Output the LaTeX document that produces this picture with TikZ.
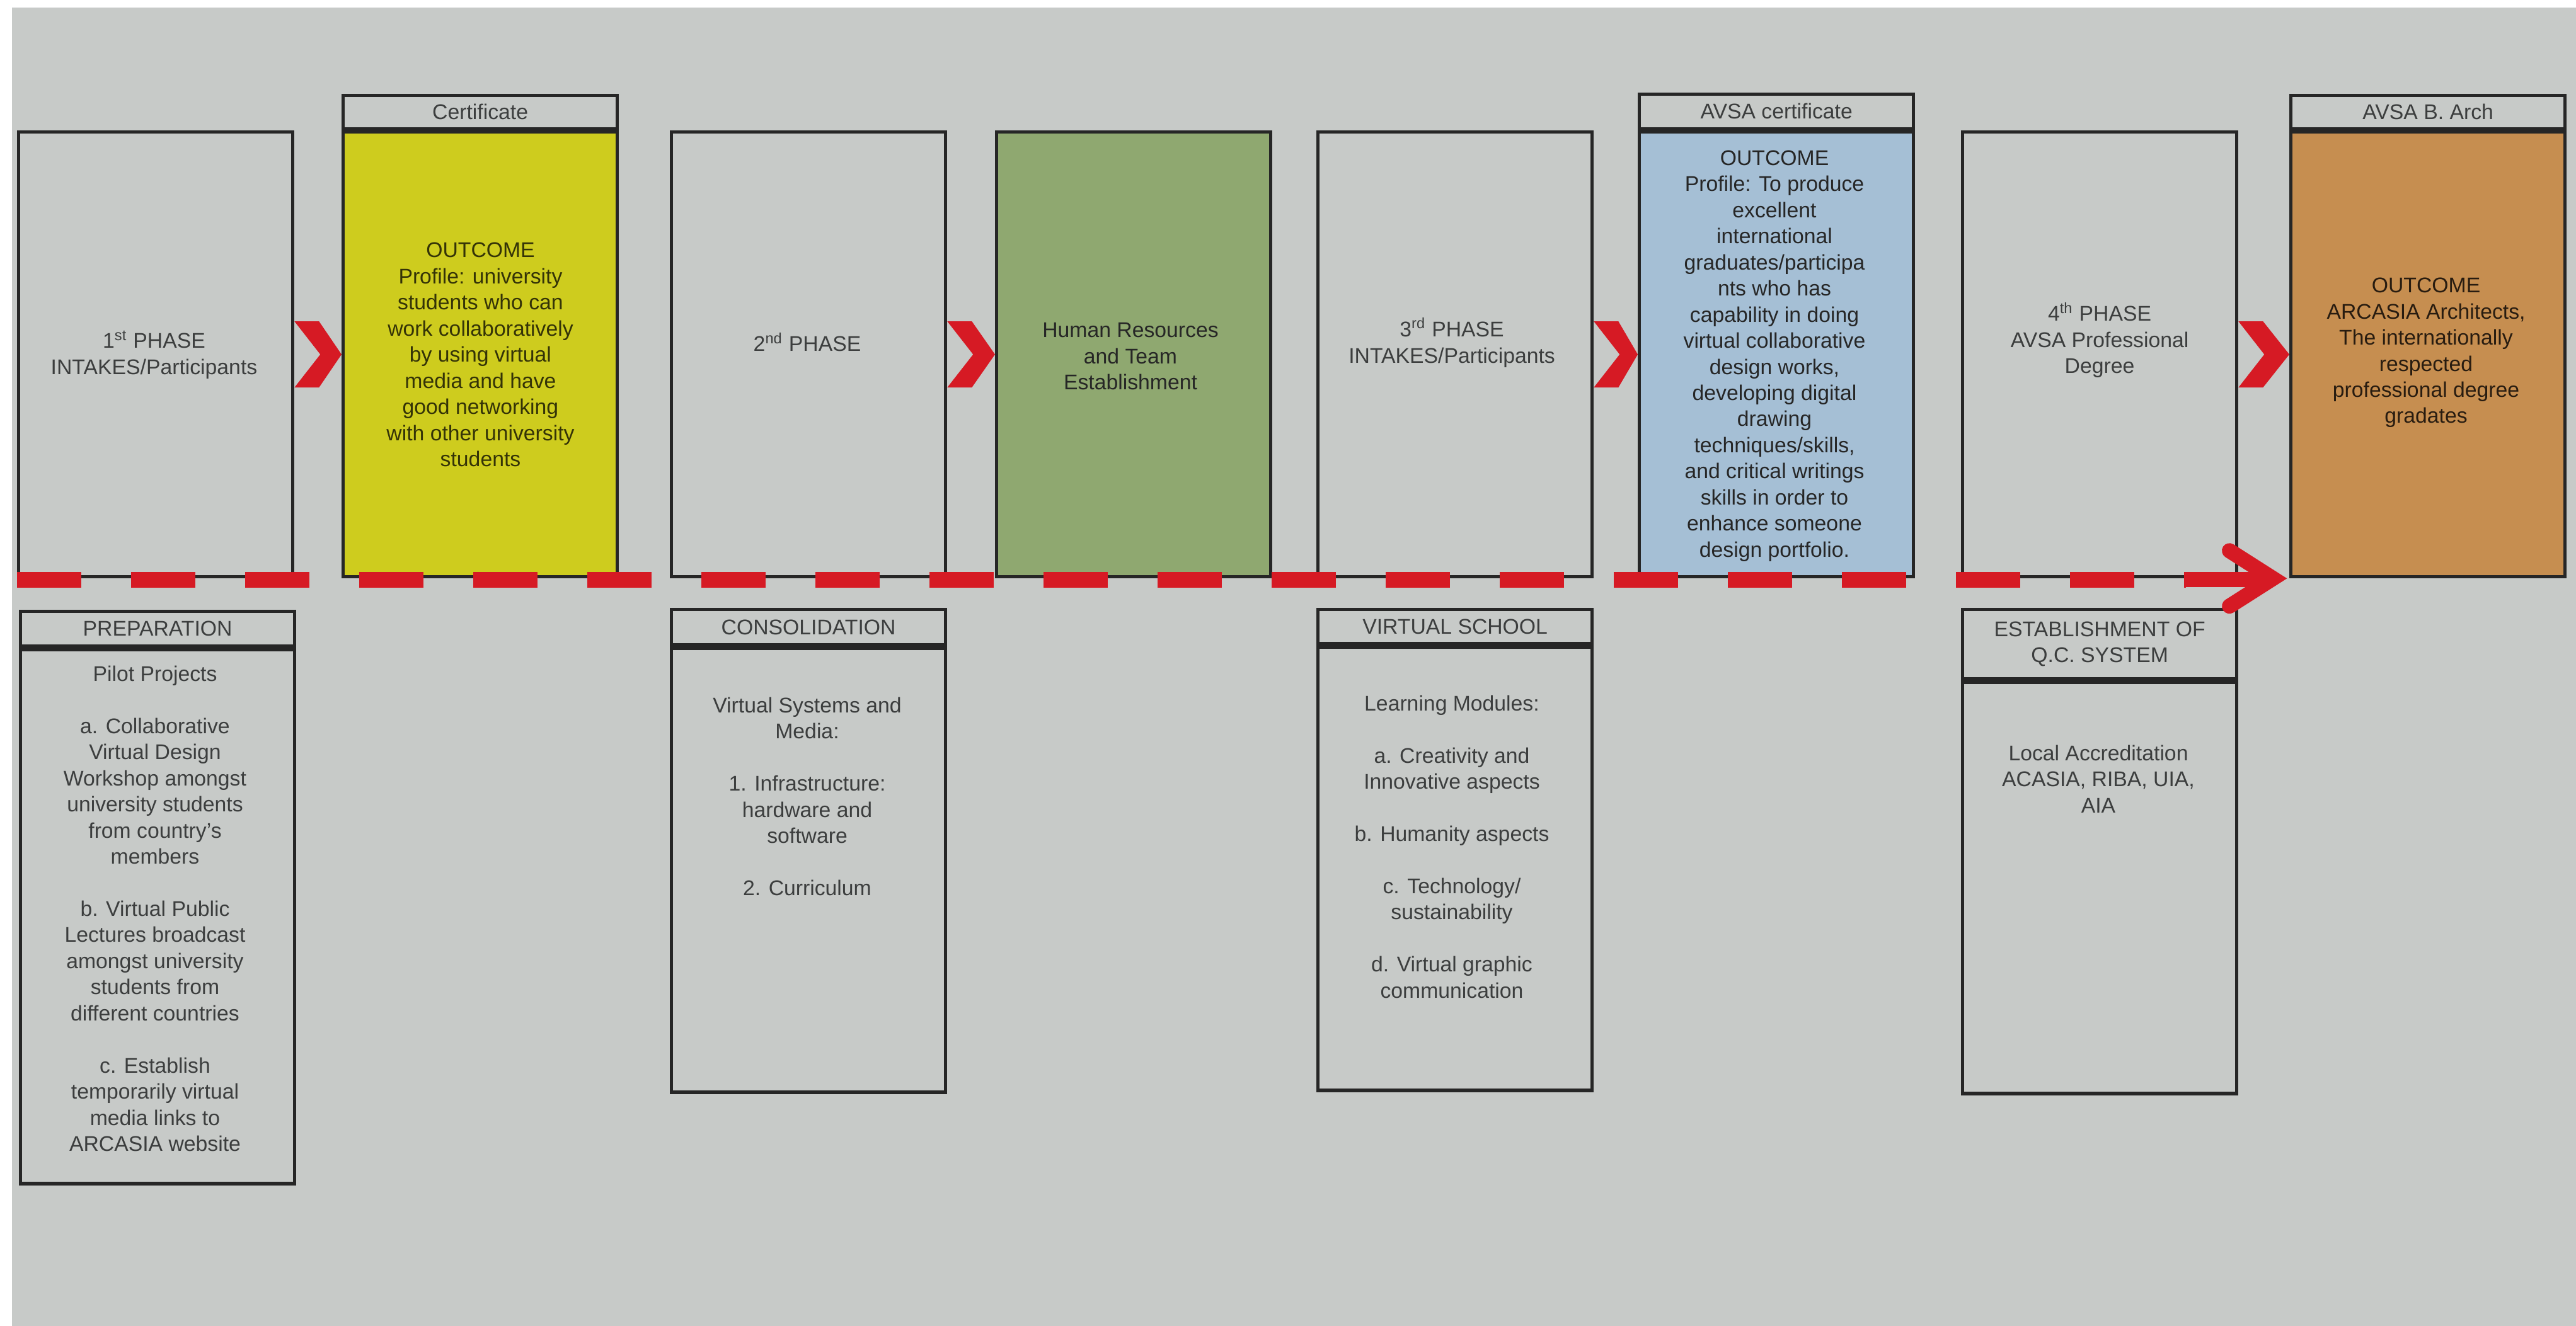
\documentclass[tikz,border=0pt]{standalone}
\usepackage{fontspec}
\setmainfont{Liberation Sans}
\usetikzlibrary{positioning}

\definecolor{bgpaper}{RGB}{199,202,200}
\definecolor{chevred}{RGB}{214,26,36}
\definecolor{outyellow}{RGB}{206,204,30}
\definecolor{outgreen}{RGB}{143,168,112}
\definecolor{outblue}{RGB}{165,191,213}
\definecolor{outorange}{RGB}{198,142,80}
\definecolor{inkgray}{RGB}{60,62,62}

% blank line inside a node
\newcommand{\gapline}{\\[11.8pt]}
% red chevron between two boxes
\newcommand{\chevron}[2]{%
  \fill[chevred] ([yshift=5.25mm]#1.east) -- ++(3.9mm,0) -- (#2.west)
    -- ([xshift=3.9mm,yshift=-5.25mm]#1.east) -- ([yshift=-5.25mm]#1.east)
    -- ([xshift=4.1mm]#1.east) -- cycle;}

\begin{document}
\begin{tikzpicture}[
  box/.style={draw=black!85, line width=1.5pt, minimum width=4.35cm,
              anchor=north west, inner sep=0pt},
  hd/.style={box, font=\fontsize{9.6}{11.8}\selectfont, align=center, text=inkgray},
  txt/.style={font=\fontsize{9.6}{11.8}\selectfont, align=center, inner sep=0pt, text=inkgray},
  timeline/.style={draw=chevred, line width=0.25cm, dash pattern=on 1.02cm off 0.79cm},
  arrowhd/.style={draw=chevred, line width=0.24cm}
]
\useasboundingbox (0,0) rectangle (40.88,-21.05);
\fill[white] (0,0) rectangle (40.88,-21.05);
\fill[bgpaper] (0.19,-0.12) rectangle (40.88,-21.05);

% phases and outcomes
\node[box, minimum height=7.06cm] (p1) at (0.27,-2.07) {};
\node[box, minimum height=7.06cm, fill=outyellow] (cert) at (5.42,-2.07) {};
\node[hd, minimum height=0.53cm, anchor=south] (certhd) at (cert.north) {Certificate};
\node[box, minimum height=7.06cm] (p2) at (10.63,-2.07) {};
\node[box, minimum height=7.06cm, fill=outgreen] (hr) at (15.79,-2.07) {};
\node[box, minimum height=7.06cm] (p3) at (20.89,-2.07) {};
\node[box, minimum height=7.06cm, fill=outblue] (avsa) at (25.99,-2.07) {};
\node[hd, minimum height=0.55cm, anchor=south] (avsahd) at (avsa.north) {AVSA certificate};
\node[box, minimum height=7.06cm] (p4) at (31.12,-2.07) {};
\node[box, minimum height=7.06cm, fill=outorange] (barch) at (36.33,-2.07) {};
\node[hd, minimum height=0.53cm, anchor=south] (barchhd) at (barch.north) {AVSA B. Arch};

\node[txt] (p1t) at (2.445,-5.63) {1\textsuperscript{st} PHASE\\INTAKES/Participants};
\node[txt, text=black!75!outyellow] (certt) at (7.625,-5.63) {OUTCOME\\Profile: university\\students who can\\work collaboratively\\by using virtual\\media and have\\good networking\\with other university\\students};
\node[txt] (p2t) at (12.81,-5.43) {2\textsuperscript{nd} PHASE};
\node[txt, text=black!85] (hrt) at (17.94,-5.66) {Human Resources\\and Team\\Establishment};
\node[txt] (p3t) at (23.04,-5.44) {3\textsuperscript{rd} PHASE\\INTAKES/Participants};
\node[txt, text=black!85] (avsat) at (28.16,-5.65) {OUTCOME\\Profile: To produce\\excellent\\international\\graduates/participa\\nts who has\\capability in doing\\virtual collaborative\\design works,\\developing digital\\drawing\\techniques/skills,\\and critical writings\\skills in order to\\enhance someone\\design portfolio.};
\node[txt] (p4t) at (33.32,-5.40) {4\textsuperscript{th} PHASE\\AVSA Professional\\Degree};
\node[txt, text=black!80!outorange] (barcht) at (38.50,-5.60) {OUTCOME\\ARCASIA Architects,\\The internationally\\respected\\professional degree\\gradates};

\chevron{p1}{cert}
\chevron{p2}{hr}
\chevron{p3}{avsa}
\chevron{p4}{barch}

% supporting stages
\node[hd, minimum height=0.55cm] (prephd) at (0.30,-9.68) {PREPARATION};
\node[box, minimum height=8.48cm, below=0pt of prephd] (prep) {};
\node[hd, minimum height=0.56cm] (conshd) at (10.63,-9.65) {CONSOLIDATION};
\node[box, minimum height=7.05cm, below=0pt of conshd] (cons) {};
\node[hd, minimum height=0.54cm] (vshd) at (20.89,-9.65) {VIRTUAL SCHOOL};
\node[box, minimum height=7.04cm, below=0pt of vshd] (vs) {};
\node[hd, minimum height=1.10cm] (qchd) at (31.12,-9.65) {ESTABLISHMENT OF\\Q.C. SYSTEM};
\node[box, minimum height=6.53cm, below=0pt of qchd] (qc) {};

\node[txt, anchor=north] (prept) at (2.46,-10.56) {Pilot Projects\gapline a. Collaborative\\Virtual Design\\Workshop amongst\\university students\\from country's\\members\gapline b. Virtual Public\\Lectures broadcast\\amongst university\\students from\\different countries\gapline c. Establish\\temporarily virtual\\media links to\\ARCASIA website};
\node[txt, anchor=north] (const) at (12.81,-11.06) {Virtual Systems and\\Media:\gapline 1. Infrastructure:\\hardware and\\software\gapline 2. Curriculum};
\node[txt, anchor=north] (vst) at (23.04,-11.03) {Learning Modules:\gapline a. Creativity and\\Innovative aspects\gapline b. Humanity aspects\gapline c. Technology/\\sustainability\gapline d. Virtual graphic\\communication};
\node[txt, anchor=north] (qct) at (33.30,-11.82) {Local Accreditation\\ACASIA, RIBA, UIA,\\AIA};

% dashed time line with arrow
\draw[timeline] ([yshift=-0.02cm]p1.south west) -- ([xshift=-16.4mm,yshift=-0.02cm]barch.south west);
\draw[arrowhd] ([xshift=-16.4mm,yshift=-0.02cm]barch.south west) -- ([xshift=-2.6mm,yshift=-0.02cm]barch.south west);
\draw[arrowhd, line cap=round, line join=miter] ([xshift=-9.5mm,yshift=4.4mm]barch.south west)
  -- ([xshift=-2.6mm]barch.south west) -- ([xshift=-9.5mm,yshift=-4.4mm]barch.south west);

\end{tikzpicture}
\end{document}
